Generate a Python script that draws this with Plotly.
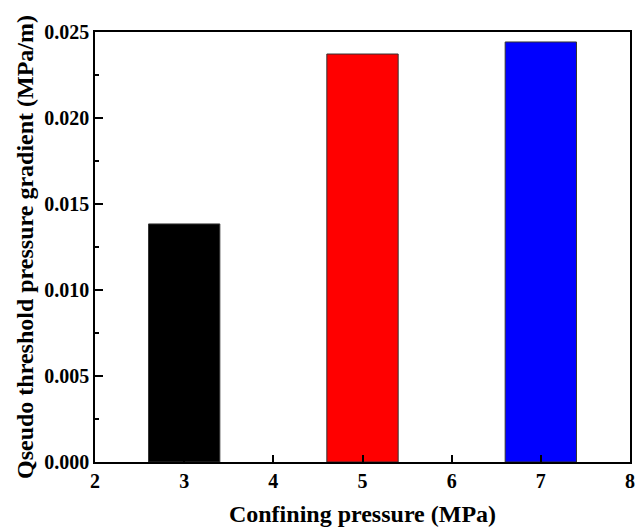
import plotly.graph_objects as go

pressures = [3, 5, 7]
gradients = [0.01384, 0.02372, 0.02442]
bar_colors = ["#000000", "#ff0000", "#0000ff"]
x_ticks = [2, 3, 4, 5, 6, 7, 8]
y_ticks = [0.000, 0.005, 0.010, 0.015, 0.020, 0.025]

font_family = "Liberation Serif, Times New Roman, serif"

fig = go.Figure()
fig.add_trace(go.Bar(
    x=pressures, y=gradients, width=0.8,
    marker=dict(color=bar_colors, line=dict(color="#333333", width=1)),
    showlegend=False,
))

fig.update_layout(
    width=643, height=530,
    margin=dict(l=87, r=21, t=24, b=76),
    plot_bgcolor="white", paper_bgcolor="white",
    font=dict(family=font_family, color="black"),
)
fig.update_xaxes(
    range=[2, 8], tickvals=x_ticks, ticktext=[str(v) for v in x_ticks],
    ticks="inside", ticklen=7, tickwidth=1.5, tickcolor="black",
    showline=True, linecolor="black", linewidth=1.5, mirror=True,
    showgrid=False, zeroline=False,
    tickfont=dict(size=20, family=font_family, weight="bold"),
    title=dict(text="<b>Confining pressure (MPa)</b>", font=dict(size=24, family=font_family), standoff=14),
)
fig.update_yaxes(
    range=[0, 0.025], tickvals=y_ticks, tickformat=".3f",
    ticks="inside", ticklen=8, tickwidth=1.5, tickcolor="black",
    minor=dict(dtick=0.0025, ticks="inside", ticklen=4, tickwidth=1.5, tickcolor="black", showgrid=False),
    showline=True, linecolor="black", linewidth=1.5, mirror=True,
    showgrid=False, zeroline=False,
    tickfont=dict(size=20, family=font_family, weight="bold"),
    title=dict(text="<b>Qseudo threshold pressure gradient (MPa/m)</b>", font=dict(size=24, family=font_family), standoff=4),
)

fig.write_html("out.html")
